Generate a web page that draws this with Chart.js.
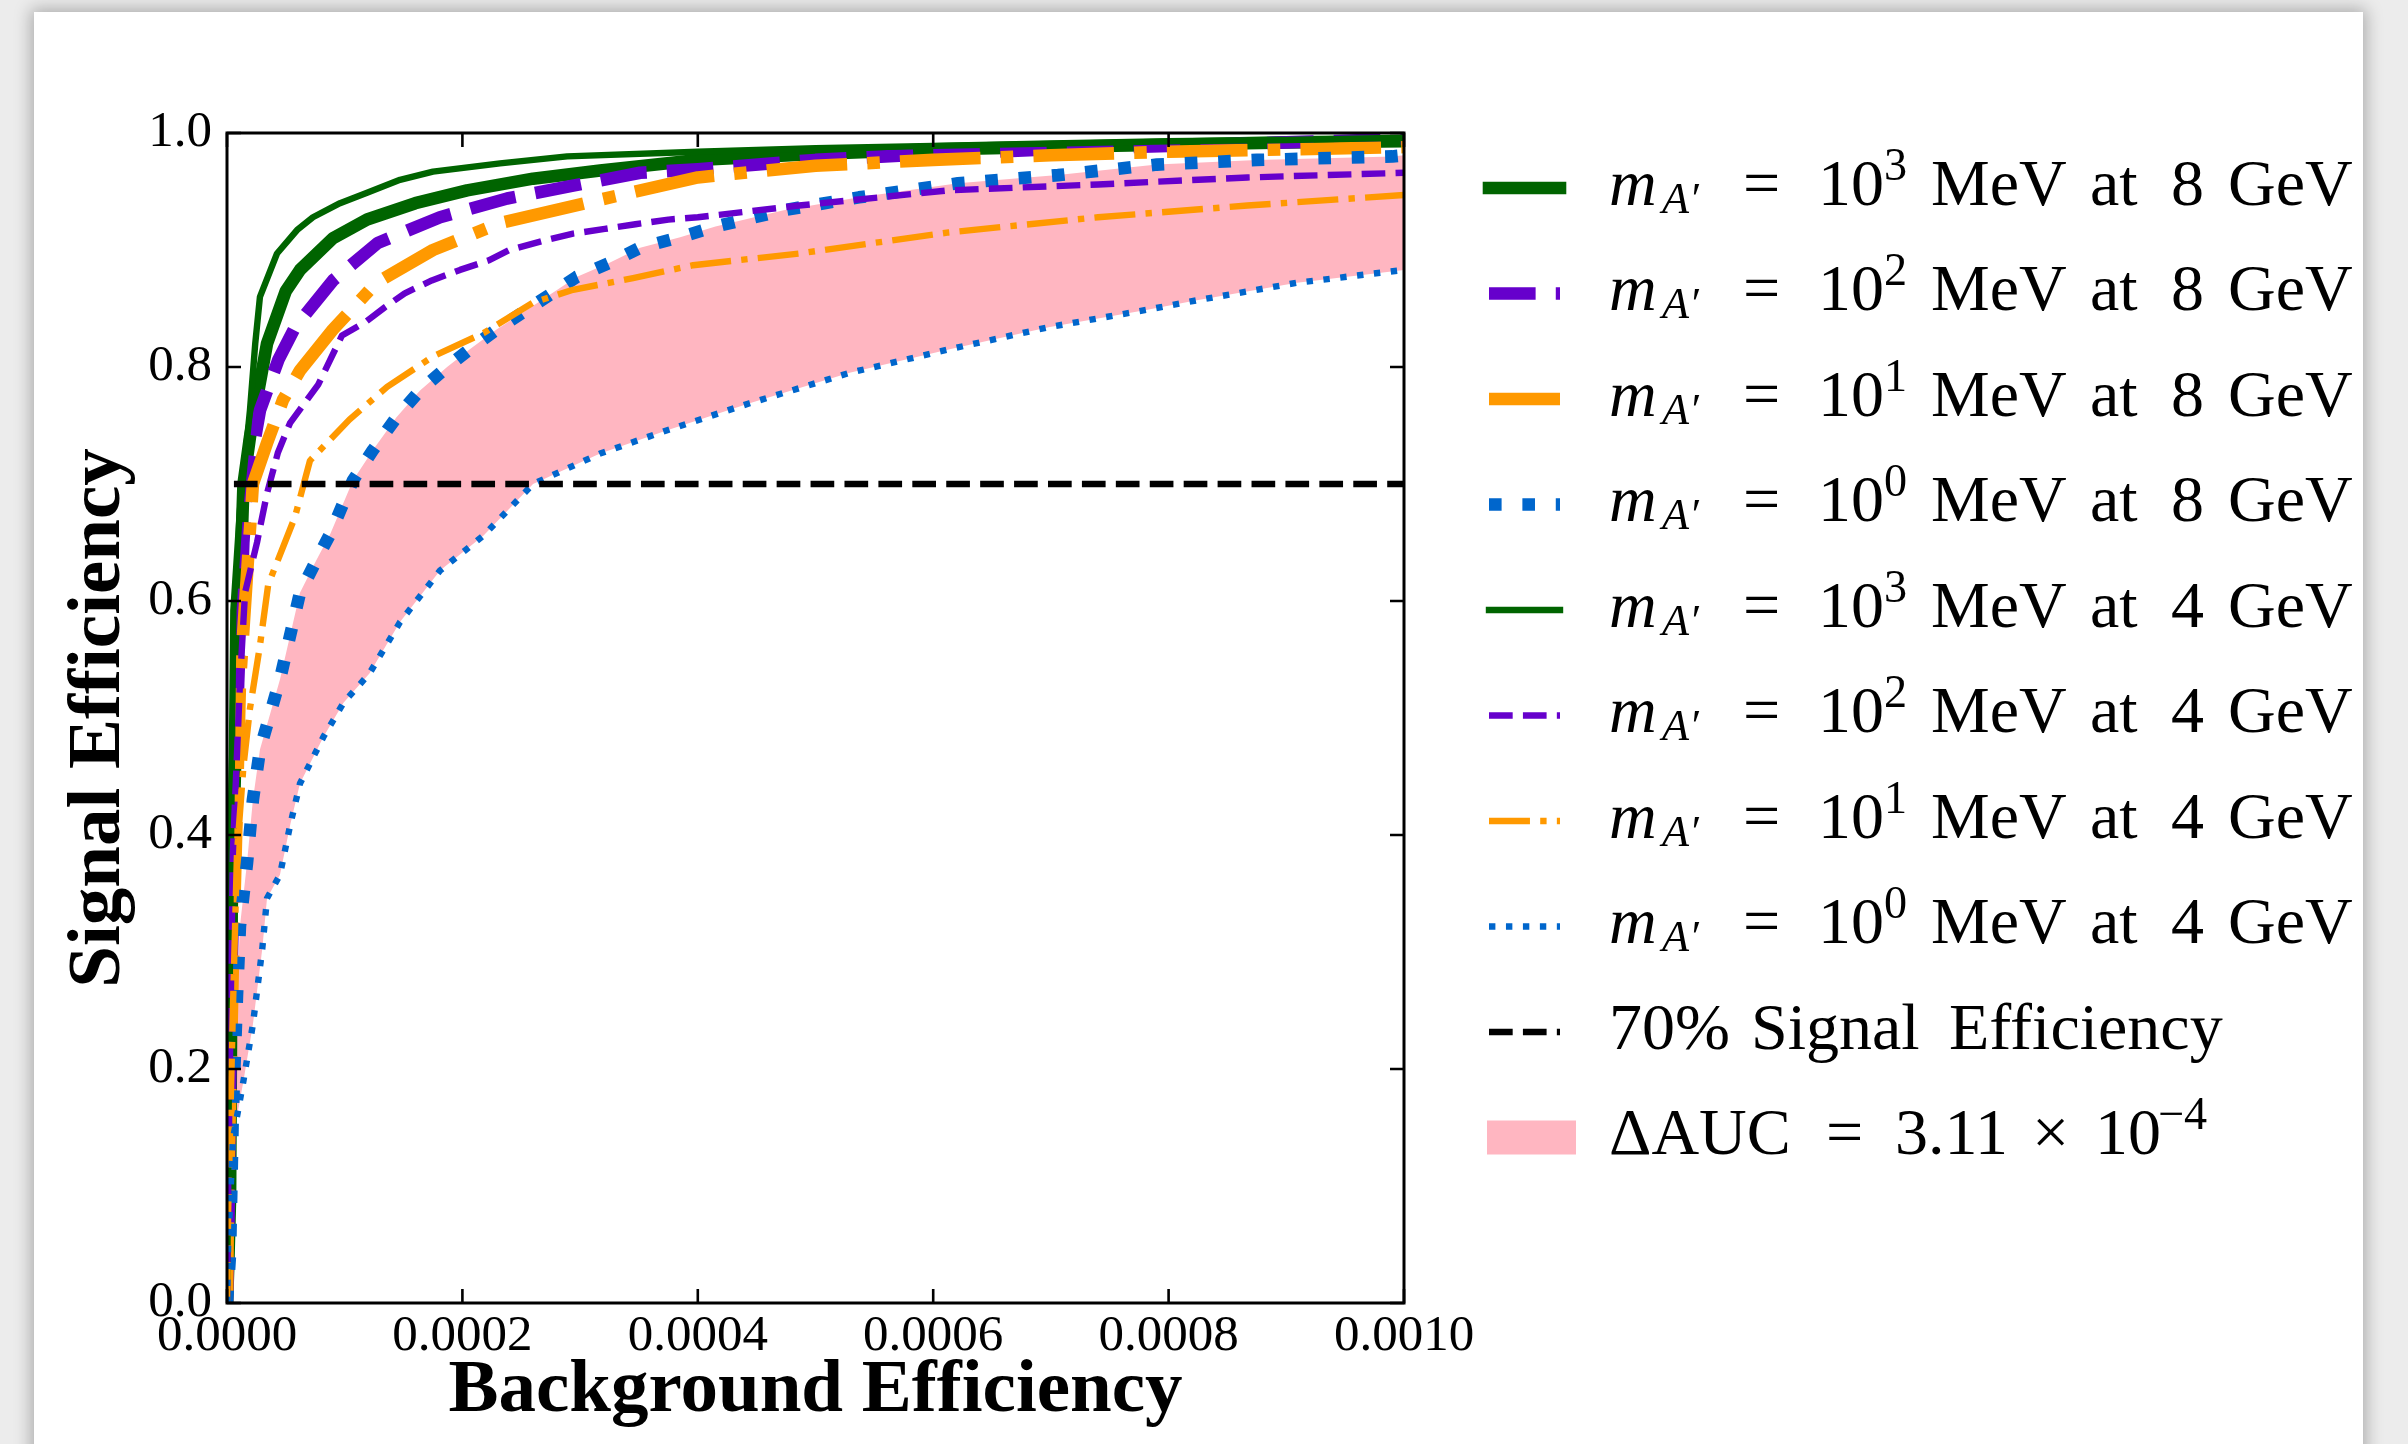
<!DOCTYPE html>
<html>
<head>
<meta charset="utf-8">
<title>Signal vs background efficiency</title>
<script src="https://cdn.jsdelivr.net/npm/chart.js@4.4.1/dist/chart.umd.min.js"></script>
<style>
  html, body { margin: 0; padding: 0; background: #ececec; overflow: hidden; }
  body { width: 2408px; height: 1444px; position: relative; }
  .card {
    position: absolute; left: 34px; top: 12px; width: 2329px; height: 1470px;
    background: #fff; box-shadow: 0 0 16px 3px rgba(0, 0, 0, 0.28);
  }
  canvas { display: block; }
</style>
</head>
<body>
<div class="card"><canvas id="roc" width="2329" height="1432"></canvas></div>
<script>
// Axis ticks
const xTickValues = [0, 0.0002, 0.0004, 0.0006, 0.0008, 0.001];
const xTickLabels = ['0.0000', '0.0002', '0.0004', '0.0006', '0.0008', '0.0010'];
const yTickValues = [0, 0.2, 0.4, 0.6, 0.8, 1.0];
const yTickLabels = ['0.0', '0.2', '0.4', '0.6', '0.8', '1.0'];

// 8 GeV beam, m_A' = 10^3 MeV
const bg8_m1000 = [0, 0.000001, 0.0000026, 0.000004, 0.0000085, 0.000014, 0.0000195, 0.000034, 0.00005, 0.000062, 0.00009, 0.000119, 0.00016, 0.000204, 0.00026, 0.000317, 0.0004, 0.0005, 0.0006, 0.0007, 0.0008, 0.0009, 0.001];
const sig8_m1000 = [0, 0.03, 0.09, 0.337, 0.53, 0.70, 0.74, 0.82, 0.865, 0.883, 0.91, 0.926, 0.94, 0.951, 0.961, 0.968, 0.977, 0.982, 0.986, 0.988, 0.990, 0.992, 0.993];
// 8 GeV, 10^2 MeV
const bg8_m100 = [0, 0.000001, 0.000004, 0.0000095, 0.0000139, 0.000017, 0.000028, 0.0000436, 0.0000578, 0.00009, 0.000128, 0.000181, 0.000238, 0.000294, 0.000351, 0.0004, 0.0005, 0.0006, 0.0007, 0.0008, 0.0009, 0.001];
const sig8_m100 = [0, 0.05, 0.29, 0.53, 0.65, 0.70, 0.763, 0.806, 0.834, 0.874, 0.906, 0.928, 0.944, 0.955, 0.966, 0.969, 0.977, 0.982, 0.986, 0.989, 0.992, 0.995];
// 8 GeV, 10^1 MeV
const bg8_m10 = [0, 0.000001, 0.000005, 0.000011, 0.000022, 0.000034, 0.0000476, 0.000062, 0.00009, 0.000127, 0.000175, 0.000232, 0.000317, 0.0004, 0.0005, 0.0006, 0.0007, 0.0008, 0.0009, 0.001];
const sig8_m10 = [0, 0.1, 0.29, 0.53, 0.70, 0.735, 0.772, 0.797, 0.832, 0.872, 0.90, 0.923, 0.943, 0.962, 0.972, 0.977, 0.981, 0.984, 0.986, 0.988];
// 8 GeV, 10^0 MeV
const bg8_m1 = [0, 0.0000026, 0.000005, 0.0000085, 0.000011, 0.000017, 0.000022, 0.000028, 0.000045, 0.000062, 0.000076, 0.000088, 0.000107, 0.000124, 0.000144, 0.000164, 0.000187, 0.000206, 0.000229, 0.000255, 0.000297, 0.000325, 0.000351, 0.000385, 0.000415, 0.000473, 0.000537, 0.000621, 0.000706, 0.00079, 0.000875, 0.00099, 0.001];
const sig8_m1 = [0, 0.042, 0.165, 0.263, 0.322, 0.376, 0.43, 0.473, 0.533, 0.607, 0.635, 0.658, 0.703, 0.729, 0.757, 0.78, 0.80, 0.815, 0.832, 0.849, 0.877, 0.889, 0.902, 0.911, 0.92, 0.934, 0.945, 0.957, 0.964, 0.973, 0.977, 0.98, 0.981];
// 4 GeV, 10^3 MeV
const bg4_m1000 = [0, 0.000001, 0.000003, 0.0000054, 0.000011, 0.0000195, 0.000024, 0.000028, 0.0000425, 0.0000595, 0.000073, 0.000096, 0.000119, 0.000147, 0.000175, 0.000232, 0.000289, 0.0004, 0.0005, 0.0006, 0.0007, 0.0008, 0.0009, 0.001];
const sig4_m1000 = [0, 0.12, 0.35, 0.592, 0.678, 0.763, 0.82, 0.86, 0.897, 0.917, 0.928, 0.94, 0.949, 0.96, 0.967, 0.974, 0.98, 0.984, 0.987, 0.989, 0.991, 0.993, 0.994, 0.996];
// 4 GeV, 10^2 MeV
const bg4_m100 = [0, 0.000001, 0.000005, 0.000011, 0.0000153, 0.0000255, 0.000034, 0.0000433, 0.0000535, 0.0000775, 0.0000977, 0.000117, 0.000134, 0.000151, 0.000174, 0.000198, 0.000222, 0.00024, 0.000269, 0.000294, 0.000321, 0.000347, 0.000375, 0.0004, 0.000486, 0.000613, 0.00074, 0.000867, 0.001];
const sig4_m100 = [0, 0.1, 0.385, 0.53, 0.607, 0.65, 0.692, 0.727, 0.752, 0.785, 0.827, 0.838, 0.851, 0.863, 0.874, 0.883, 0.891, 0.9, 0.908, 0.914, 0.918, 0.922, 0.926, 0.928, 0.938, 0.951, 0.956, 0.962, 0.966];
// 4 GeV, 10^1 MeV
const bg4_m10 = [0, 0.000001, 0.000005, 0.0000085, 0.000014, 0.0000195, 0.000028, 0.000035, 0.0000578, 0.0000705, 0.000104, 0.000136, 0.000175, 0.000218, 0.00026, 0.000294, 0.000345, 0.000396, 0.000486, 0.000613, 0.00074, 0.000867, 0.001];
const sig4_m10 = [0, 0.08, 0.25, 0.385, 0.459, 0.508, 0.562, 0.614, 0.672, 0.72, 0.755, 0.783, 0.809, 0.829, 0.855, 0.866, 0.876, 0.887, 0.897, 0.915, 0.928, 0.938, 0.947];
// 4 GeV, 10^0 MeV
const bg4_m1 = [0, 0.000001, 0.000005, 0.000014, 0.000022, 0.00003, 0.000034, 0.000045, 0.000054, 0.000062, 0.000082, 0.000099, 0.000121, 0.000147, 0.000181, 0.000218, 0.00026, 0.000317, 0.000374, 0.000444, 0.000529, 0.000613, 0.000698, 0.000782, 0.000824, 0.000909, 0.001];
const sig4_m1 = [0, 0.05, 0.14, 0.19, 0.238, 0.303, 0.346, 0.366, 0.41, 0.444, 0.484, 0.513, 0.538, 0.582, 0.626, 0.656, 0.70, 0.726, 0.746, 0.769, 0.795, 0.815, 0.834, 0.849, 0.857, 0.872, 0.883];
// 70% signal efficiency reference line
const thresholdBg = [0, 0.001];
const thresholdSig = [0.7, 0.7];

const massExponents = ['3', '2', '1', '0', '3', '2', '1', '0'];
const beamEnergies = ['8', '8', '8', '8', '4', '4', '4', '4'];
const deltaAuc = '3.11';

// styles
const SERIF = '"Liberation Serif", "DejaVu Serif", serif';
const GREEN = '#006400', PURPLE = '#6600cc', ORANGE = '#ff9900', BLUE = '#0066cc', PINK = '#ffb6c1';
const THICK = 12.6, THIN = 6.4;
const dashed = w => [3.7 * w, 1.6 * w];
const dotted = w => [1 * w, 1.65 * w];
const dashDot = w => [6.4 * w, 1.6 * w, 1 * w, 1.6 * w];

const curves = [
    { bg: bg8_m1000, sig: sig8_m1000, color: GREEN, width: THICK, dash: [] },
    { bg: bg8_m100, sig: sig8_m100, color: PURPLE, width: THICK, dash: dashed(THICK) },
    { bg: bg8_m10, sig: sig8_m10, color: ORANGE, width: THICK, dash: dashDot(THICK) },
    { bg: bg8_m1, sig: sig8_m1, color: BLUE, width: THICK, dash: dotted(THICK) },
    { bg: bg4_m1000, sig: sig4_m1000, color: GREEN, width: THIN, dash: [] },
    { bg: bg4_m100, sig: sig4_m100, color: PURPLE, width: THIN, dash: dashed(THIN) },
    { bg: bg4_m10, sig: sig4_m10, color: ORANGE, width: THIN, dash: dashDot(THIN) },
    { bg: bg4_m1, sig: sig4_m1, color: BLUE, width: THIN, dash: dotted(THIN), fillTo: 3 },
    { bg: thresholdBg, sig: thresholdSig, color: '#000', width: THIN, dash: dashed(THIN), dashOffset: 27 }
];

const datasets = curves.map((c, i) => ({
    data: c.bg.map((x, k) => ({ x: x, y: c.sig[k] })),
    borderColor: c.color,
    borderWidth: c.width,
    borderDash: c.dash,
    borderDashOffset: c.dashOffset || 0,
    borderJoinStyle: 'round',
    borderCapStyle: 'butt',
    backgroundColor: PINK,
    fill: c.fillTo !== undefined ? c.fillTo : false,
    pointRadius: 0,
    tension: 0,
    clip: 0,
    order: curves.length - i   // later curves on top, like matplotlib
}));

// Legend text: pieces placed along the row (x offset, size factor, vertical shift)
const LEGEND_FONT = 66;
function massRuns(i) {
    return [
        { t: 'm', x: 0, italic: true },
        { t: 'A\u2032', x: 53, s: 0.67, dy: 8, italic: true },
        { t: '=', x: 134 },
        { t: '10', x: 209 },
        { t: massExponents[i], x: 275, s: 0.7, dy: -25 },
        { t: 'MeV', x: 322 },
        { t: 'at', x: 481 },
        { t: beamEnergies[i], x: 562 },
        { t: 'GeV', x: 619 }
    ];
}
const legendRows = [];
for (let i = 0; i < 8; i++) legendRows.push({ kind: 'line', curve: curves[i], runs: massRuns(i) });
legendRows.push({ kind: 'line', curve: curves[8], runs: [
    { t: '70%', x: 0 }, { t: 'Signal', x: 142 }, { t: 'Efficiency', x: 340 }
] });
legendRows.push({ kind: 'patch', runs: [
    { t: '\u0394AUC', x: 0 }, { t: '=', x: 217 }, { t: deltaAuc, x: 286 },
    { t: '\u00d7', x: 423 }, { t: '10', x: 486 }, { t: '\u22124', x: 549, s: 0.7, dy: -25 }
] });

const mathLegend = {
    id: 'mathLegend',
    afterDraw(chart) {
        const ctx = chart.ctx;
        const x0 = 1455, x1 = 1526, textX = 1575, firstRow = 176, rowStep = 105.5;
        ctx.save();
        legendRows.forEach((row, i) => {
            const yc = firstRow + rowStep * i;
            if (row.kind === 'line') {
                const c = row.curve;
                ctx.strokeStyle = c.color;
                ctx.lineWidth = c.width;
                ctx.setLineDash(c.dash);
                ctx.lineCap = c.dash.length ? 'butt' : 'square';
                ctx.beginPath();
                ctx.moveTo(x0, yc);
                ctx.lineTo(x1, yc);
                ctx.stroke();
            } else {
                ctx.fillStyle = PINK;
                ctx.fillRect(x0 - 2, yc - 17, 89, 34);
            }
            ctx.setLineDash([]);
            ctx.fillStyle = '#000';
            ctx.textBaseline = 'alphabetic';
            ctx.textAlign = 'left';
            const base = yc + 16.6;
            row.runs.forEach(r => {
                const size = LEGEND_FONT * (r.s || 1);
                ctx.font = (r.italic ? 'italic ' : '') + size + 'px ' + SERIF;
                ctx.fillText(r.t, textX + r.x, base + (r.dy || 0));
            });
        });
        ctx.restore();
    }
};

// Box round the axes with inward ticks on all four sides
const TICK_LEN = 14;
const axesFrame = {
    id: 'axesFrame',
    afterDatasetsDraw(chart) {
        const { ctx, chartArea: a, scales: { x, y } } = chart;
        ctx.save();
        ctx.strokeStyle = '#000';
        ctx.lineWidth = 2.6;
        ctx.beginPath();
        xTickValues.forEach(v => {
            const px = x.getPixelForValue(v);
            ctx.moveTo(px, a.bottom); ctx.lineTo(px, a.bottom - TICK_LEN);
            ctx.moveTo(px, a.top); ctx.lineTo(px, a.top + TICK_LEN);
        });
        yTickValues.forEach(v => {
            const py = y.getPixelForValue(v);
            ctx.moveTo(a.left, py); ctx.lineTo(a.left + TICK_LEN, py);
            ctx.moveTo(a.right, py); ctx.lineTo(a.right - TICK_LEN, py);
        });
        ctx.stroke();
        ctx.lineWidth = 3;
        ctx.strokeRect(a.left, a.top, a.right - a.left, a.bottom - a.top);
        ctx.restore();
    }
};

new Chart(document.getElementById('roc'), {
    type: 'line',
    data: { datasets: datasets },
    plugins: [axesFrame, mathLegend],
    options: {
        responsive: false,
        animation: false,
        devicePixelRatio: 1,
        layout: { padding: { left: 0, top: 121, right: 959, bottom: 0 } },
        plugins: {
            legend: { display: false },
            tooltip: { enabled: false },
            filler: { drawTime: 'beforeDatasetsDraw' }
        },
        scales: {
            x: {
                type: 'linear',
                min: 0,
                max: 0.001,
                grid: { display: false, drawTicks: false },
                border: { display: false },
                afterBuildTicks: s => { s.ticks = xTickValues.map(v => ({ value: v })); },
                afterFit: s => { s.height = 141; },
                ticks: {
                    padding: 3,
                    color: '#000',
                    maxRotation: 0,
                    autoSkip: false,
                    font: { family: SERIF, size: 51 },
                    callback: (v, i) => xTickLabels[i]
                },
                title: {
                    display: true,
                    text: 'Background Efficiency',
                    color: '#000',
                    font: { family: SERIF, size: 75, weight: 'bold' },
                    padding: { top: 0, bottom: 7 }
                }
            },
            y: {
                type: 'linear',
                min: 0,
                max: 1,
                grid: { display: false, drawTicks: false },
                border: { display: false },
                afterBuildTicks: s => { s.ticks = yTickValues.map(v => ({ value: v })); },
                afterFit: s => { s.width = 193; },
                ticks: {
                    padding: 15,
                    color: '#000',
                    autoSkip: false,
                    font: { family: SERIF, size: 51 },
                    callback: (v, i) => yTickLabels[i]
                },
                title: {
                    display: true,
                    text: 'Signal Efficiency',
                    color: '#000',
                    font: { family: SERIF, size: 75, weight: 'bold' },
                    padding: { top: 21, bottom: 0 }
                }
            }
        }
    }
});
</script>
</body>
</html>
